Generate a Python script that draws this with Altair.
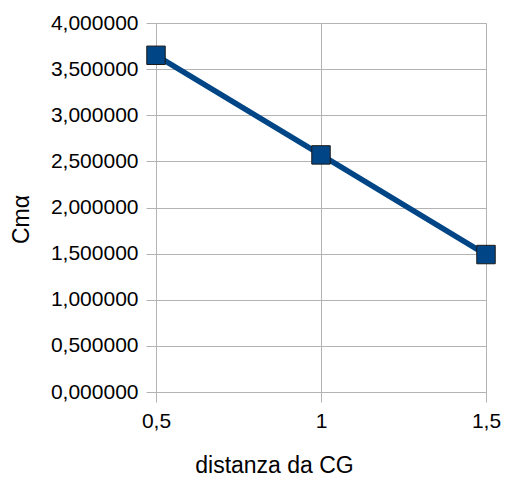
import altair as alt
import pandas as pd

distanza = [0.5, 1.0, 1.5]
cm_alpha = [3.65, 2.57, 1.49]
y_ticks = [0, 0.5, 1, 1.5, 2, 2.5, 3, 3.5, 4]
x_ticks = [0.5, 1.0, 1.5]

df = pd.DataFrame({"distanza": distanza, "cm": cm_alpha})

FONT = "Liberation Sans"
GRID = "#b3b3b3"
BLUE = "#004586"

x = alt.X(
    "distanza:Q",
    scale=alt.Scale(domain=[0.5, 1.5], nice=False, zero=False),
    axis=alt.Axis(
        values=x_ticks,
        title="distanza da CG",
        labelExpr="replace(format(datum.value, '~g'), '.', ',')",
        grid=True,
        gridColor=GRID,
        domainColor=GRID,
        tickColor=GRID,
        tickSize=10,
        labelPadding=8,
        labelFontSize=21,
        labelFont=FONT,
        labelColor="#000000",
        titleFont=FONT,
        titleFontSize=23,
        titleFontWeight="normal",
        titleColor="#000000",
        titleX=118,
        titleY=62,
        labelFlush=False,
    ),
)
y = alt.Y(
    "cm:Q",
    scale=alt.Scale(domain=[0, 4], nice=False),
    axis=alt.Axis(
        values=y_ticks,
        title="Cmα",
        labelExpr="replace(format(datum.value, '.6f'), '.', ',')",
        grid=True,
        gridColor=GRID,
        domainColor=GRID,
        tickColor=GRID,
        tickSize=10,
        labelPadding=8,
        labelFontSize=21,
        labelFont=FONT,
        labelColor="#000000",
        titleFont=FONT,
        titleFontSize=23,
        titleFontWeight="normal",
        titleColor="#000000",
        titleX=-135,
        titleY=196,
        titleAngle=-90,
        titleBaseline="middle",
        labelFlush=False,
    ),
)

line = alt.Chart(df).mark_line(color=BLUE, strokeWidth=5.5).encode(x=x, y=y)
points = alt.Chart(df).mark_point(
    shape="square", filled=True, fill=BLUE, stroke="#1a1a1a", strokeWidth=1, size=340, opacity=1
).encode(x=x, y=y)

chart = (line + points).properties(
    width=330,
    height=369,
    autosize=alt.AutoSizeParams(type="none"),
    padding={"left": 156, "top": 23, "right": 21, "bottom": 88},
).configure_view(stroke=None).configure(background="white")

chart.save("out.html", embed_options={"renderer": "svg", "actions": False})
